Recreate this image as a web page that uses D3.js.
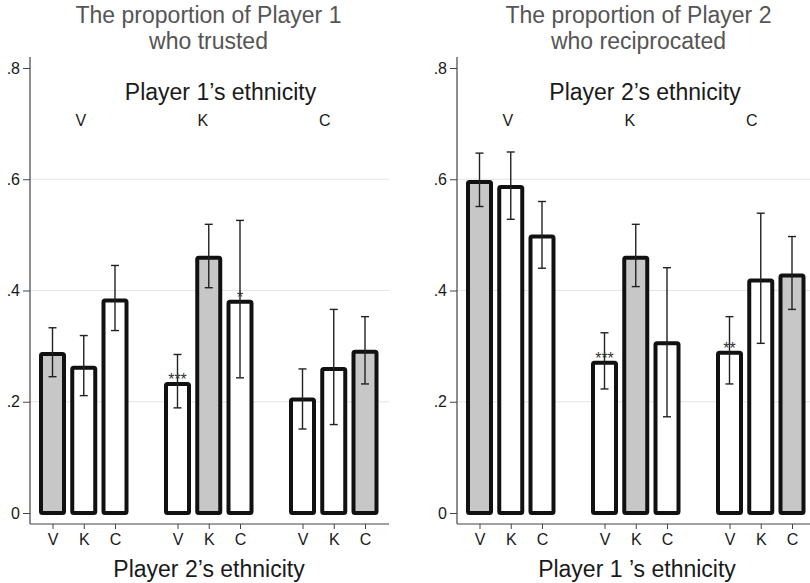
<!DOCTYPE html>
<html><head><meta charset="utf-8">
<script src="https://cdn.jsdelivr.net/npm/d3@7"></script>
<style>
body{margin:0;background:#fff;}
svg{display:block;font-family:"Liberation Sans",Arial,sans-serif;}
</style></head>
<body><svg id="c" width="810" height="583"></svg>
<script>
// ---- data ----
const ethnicities = ["V", "K", "C"];
const yTicks = [0, 0.2, 0.4, 0.6, 0.8];

// Left panel: proportion of Player 1 who trusted (groups = Player 1 ethnicity, bars = Player 2 ethnicity)
const trustMean = [0.286, 0.261, 0.382, 0.232, 0.459, 0.380, 0.204, 0.259, 0.290];
const trustLo   = [0.245, 0.211, 0.328, 0.189, 0.405, 0.243, 0.151, 0.159, 0.232];
const trustHi   = [0.333, 0.319, 0.445, 0.285, 0.519, 0.526, 0.259, 0.366, 0.353];
const trustStars = ["", "", "", "***", "", "*", "", "", ""];

// Right panel: proportion of Player 2 who reciprocated (groups = Player 2 ethnicity, bars = Player 1 ethnicity)
const recipMean = [0.595, 0.586, 0.497, 0.270, 0.459, 0.305, 0.288, 0.418, 0.427];
const recipLo   = [0.551, 0.528, 0.440, 0.223, 0.407, 0.173, 0.232, 0.305, 0.366];
const recipHi   = [0.647, 0.649, 0.560, 0.324, 0.519, 0.441, 0.353, 0.539, 0.497];
const recipStars = ["", "", "", "***", "", "", "**", "", ""];

const panels = [
  {title: ["The proportion of Player 1", "who trusted"], groupTitle: "Player 1’s ethnicity",
   xTitle: "Player 2’s ethnicity", mean: trustMean, lo: trustLo, hi: trustHi, stars: trustStars,
   left: 30, right: 389, titleX: 208.5, xTitleX: 209, groupTitleX: 220.5},
  {title: ["The proportion of Player 2", "who reciprocated"], groupTitle: "Player 2’s ethnicity",
   xTitle: "Player 1 ’s ethnicity", mean: recipMean, lo: recipLo, hi: recipHi, stars: recipStars,
   left: 457, right: 816, titleX: 638.5, xTitleX: 637, groupTitleX: 645}
];

const svg = d3.select("#c");
const y = d3.scaleLinear().domain([0, 0.8]).range([513, 68]);
const axisTop = 57, axisBottom = 524;
const barW = 23;

panels.forEach(p => {
  const g = svg.append("g");
  // slot positions: 3 groups of 3 bars with one-slot gap
  const slots = d3.range(9).map(i => Math.floor(i / 3) * 4 + (i % 3));
  const x = d3.scaleLinear().domain([0, 10]).range([p.left + 22.5, p.right - 24]);

  // gridlines
  g.append("g").selectAll("line").data([0.2, 0.4, 0.6]).join("line")
    .attr("x1", p.left).attr("x2", p.right)
    .attr("y1", d => y(d)).attr("y2", d => y(d))
    .attr("stroke", "#e4e4e4").attr("stroke-width", 1.2);

  // y axis
  const ya = g.append("g").attr("transform", `translate(${p.left},0)`)
    .call(d3.axisLeft(y).tickValues(yTicks).tickSize(7).tickPadding(3)
      .tickFormat(d => d === 0 ? "0" : d3.format(".1f")(d).replace(/^0/, "")));
  ya.select(".domain").remove();
  ya.selectAll("line").attr("stroke", "#444");
  ya.selectAll("text").attr("font-size", 16).attr("fill", "#1a1a1a")
    .attr("font-family", "Liberation Sans, Arial, sans-serif");
  g.append("line").attr("x1", p.left).attr("x2", p.left).attr("y1", axisTop).attr("y2", axisBottom)
    .attr("stroke", "#444").attr("stroke-width", 1.2);

  // x axis
  const xa = g.append("g").attr("transform", `translate(0,${axisBottom})`)
    .call(d3.axisBottom(x).tickValues(slots).tickSize(5).tickPadding(5)
      .tickFormat((d, i) => ethnicities[i % 3]));
  xa.select(".domain").remove();
  xa.selectAll("line").attr("stroke", "#444");
  xa.selectAll("text").attr("font-size", 16).attr("fill", "#1a1a1a")
    .attr("font-family", "Liberation Sans, Arial, sans-serif");
  g.append("line").attr("x1", p.left).attr("x2", p.right).attr("y1", axisBottom).attr("y2", axisBottom)
    .attr("stroke", "#444").attr("stroke-width", 1.2);

  // bars
  const data = p.mean.map((m, i) => ({m, lo: p.lo[i], hi: p.hi[i], s: p.stars[i], pos: slots[i],
    grey: Math.floor(i / 3) === i % 3}));
  g.append("g").selectAll("rect").data(data).join("rect")
    .attr("x", d => x(d.pos) - barW / 2).attr("width", barW)
    .attr("y", d => y(d.m)).attr("height", d => y(0) - y(d.m))
    .attr("rx", 1.5)
    .attr("fill", d => d.grey ? "#c6c7c6" : "#ffffff")
    .attr("stroke", "#111").attr("stroke-width", 4).attr("stroke-linejoin", "round");

  // error bars
  const eb = g.append("g").attr("stroke", "#222").attr("stroke-width", 1.4);
  eb.selectAll("line.v").data(data).join("line").attr("class", "v")
    .attr("x1", d => x(d.pos)).attr("x2", d => x(d.pos))
    .attr("y1", d => y(d.lo)).attr("y2", d => y(d.hi));
  ["lo", "hi"].forEach(k => {
    eb.selectAll("line." + k).data(data).join("line").attr("class", k)
      .attr("x1", d => x(d.pos) - 4).attr("x2", d => x(d.pos) + 4)
      .attr("y1", d => y(d[k])).attr("y2", d => y(d[k]));
  });

  // significance stars
  g.append("g").selectAll("text").data(data.filter(d => d.s)).join("text")
    .attr("x", d => x(d.pos)).attr("y", d => y(d.m) + 1)
    .attr("text-anchor", "middle").attr("font-size", 16).attr("fill", "#333")
    .text(d => d.s);

  // group labels at top
  g.append("text").attr("x", p.groupTitleX).attr("y", 100).attr("text-anchor", "middle")
    .attr("font-size", 23).attr("fill", "#1a1a1a").text(p.groupTitle);
  g.append("g").selectAll("text").data(ethnicities).join("text")
    .attr("x", (d, i) => x(i * 4 + 1) - 3 - i * 3).attr("y", 126).attr("text-anchor", "middle")
    .attr("font-size", 16).attr("fill", "#1a1a1a").text(d => d);

  // panel title
  g.append("g").selectAll("text").data(p.title).join("text")
    .attr("text-anchor", "middle").attr("font-size", 23).attr("fill", "#555")
    .attr("x", p.titleX).attr("y", (d, i) => 23 + i * 26).text(d => d);

  // x axis title
  g.append("text").attr("x", p.xTitleX).attr("y", 577).attr("text-anchor", "middle")
    .attr("font-size", 23).attr("fill", "#1a1a1a").text(p.xTitle);
});
</script></body></html>
